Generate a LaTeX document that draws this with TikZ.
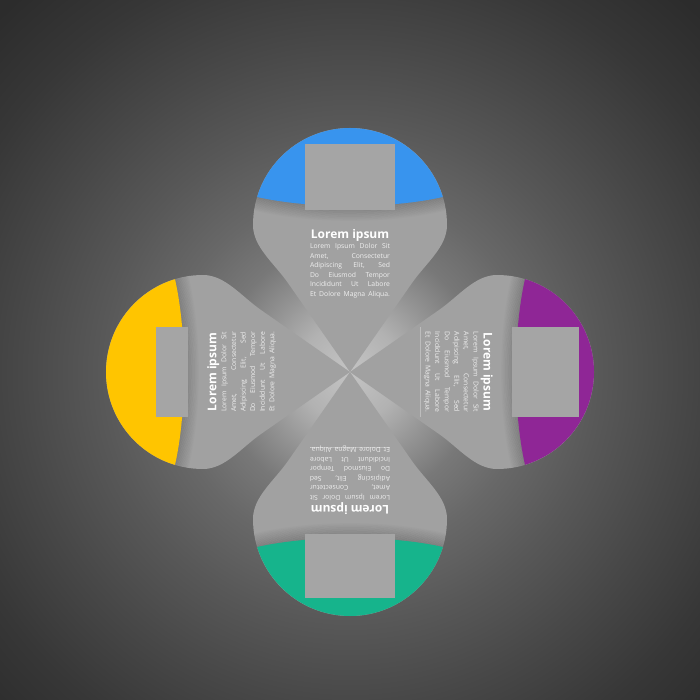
\documentclass[tikz,border=0pt]{standalone}
\usepackage{fontspec}
\setmainfont{Open Sans}
\usepackage{xcolor}
\usepackage{tikz}

\definecolor{capblue}{RGB}{56,148,238}
\definecolor{cappurple}{RGB}{143,38,150}
\definecolor{capgreen}{RGB}{22,180,140}
\definecolor{capyellow}{RGB}{255,197,0}
\definecolor{petalgray}{RGB}{161,161,161}
\definecolor{iconbox}{RGB}{165,165,165}
\definecolor{bgA}{RGB}{196,196,196}
\definecolor{bgB}{RGB}{178,178,178}
\definecolor{bgC}{RGB}{148,148,148}
\definecolor{bgD}{RGB}{120,120,120}
\definecolor{bgE}{RGB}{104,104,104}
\definecolor{bgF}{RGB}{88,88,88}
\definecolor{bgG}{RGB}{72,72,72}
\definecolor{bgH}{RGB}{55,55,55}
\definecolor{bgI}{RGB}{44,44,44}
\pgfdeclareradialshading{bgshade}{\pgfpointorigin}{color(0bp)=(bgA); color(2.5bp)=(bgB); color(4.5bp)=(bgC); color(6.5bp)=(bgD); color(9bp)=(bgE); color(12.5bp)=(bgF); color(16.5bp)=(bgG); color(21bp)=(bgH); color(25bp)=(bgI); color(50bp)=(bgI)}

\newcommand{\loremtext}{%
  \begin{minipage}{80pt}
    \centering
    {\fontsize{12}{13}\selectfont\bfseries Lorem ipsum\par}
    \vspace{0.5pt}
    \fontsize{6.8}{9.6}\selectfont\color{white!88!gray}
    \makebox[80pt][s]{Lorem Ipsum Dolor Sit}\par
    \makebox[80pt][s]{Amet, Consectetur}\par
    \makebox[80pt][s]{Adipiscing Elit, Sed}\par
    \makebox[80pt][s]{Do Eiusmod Tempor}\par
    \makebox[80pt][s]{Incididunt Ut Labore}\par
    \makebox[80pt][s]{Et Dolore Magna Aliqua.}\par
  \end{minipage}}

\begin{document}
\begin{tikzpicture}[x=1pt, y=1pt]
    \useasboundingbox (-350,-328) rectangle (350,372);
    \clip (-350,-328) rectangle (350,372);
    \shade[shading=bgshade] (-500,-500) rectangle (500,500);
    % four petals: angle / cap colour / icon box top / name
    \foreach \ang/\col/\rv/\nm in {0/capblue/228/top, -90/cappurple/229/right, 180/capgreen/226/bottom, 90/capyellow/194/left} {
        \begin{scope}[rotate=\ang]
            \fill[petalgray] (0,0) -- (-62,89) .. controls (-76,109) and (-97,125) .. (-97,147)
                arc[start angle=180, end angle=0, radius=97] .. controls (97,125) and (76,109) .. (62,89) -- cycle;
            \begin{scope}
                \clip (0,0) -- (-62,89) .. controls (-76,109) and (-97,125) .. (-97,147)
                    arc[start angle=180, end angle=0, radius=97] .. controls (97,125) and (76,109) .. (62,89) -- cycle;
                % a little lighter towards the middle
                \foreach \r in {20,30,...,150}
                    \fill[white, opacity=0.008] (0,0) circle[radius=\r];
                % soft shadow under the cap
                \foreach \k [evaluate=\k as \op using 0.2*(1-\k/12), evaluate=\k as \a using \k*1.3, evaluate=\k as \b using \k*1.3+1.3] in {0,...,11}
                    \fill[black, opacity=\op] (-100,178-\a) .. controls (-40,163-\a) and (40,163-\a) .. (100,178-\a)
                        -- (100,178-\b) .. controls (40,163-\b) and (-40,163-\b) .. (-100,178-\b) -- cycle;
            \end{scope}
            \fill[\col] (-92.9,175) arc[start angle=163.2, end angle=16.8, radius=97]
                .. controls (40,163) and (-40,163) .. cycle;
            \fill[iconbox] (-45,162) rectangle (45,\rv);
            \node[rotate=\ang, anchor=north, inner sep=0pt, text=white] (txt-\nm) at (0,143) {\loremtext};
        \end{scope}
    }
    % faint rules beside two of the texts
    \draw[white, opacity=0.3, line width=0.6pt] (70,45) -- (70,-45);
    \draw[white, opacity=0.3, line width=0.6pt] (-40,-75) -- (40,-75);
\end{tikzpicture}
\end{document}
